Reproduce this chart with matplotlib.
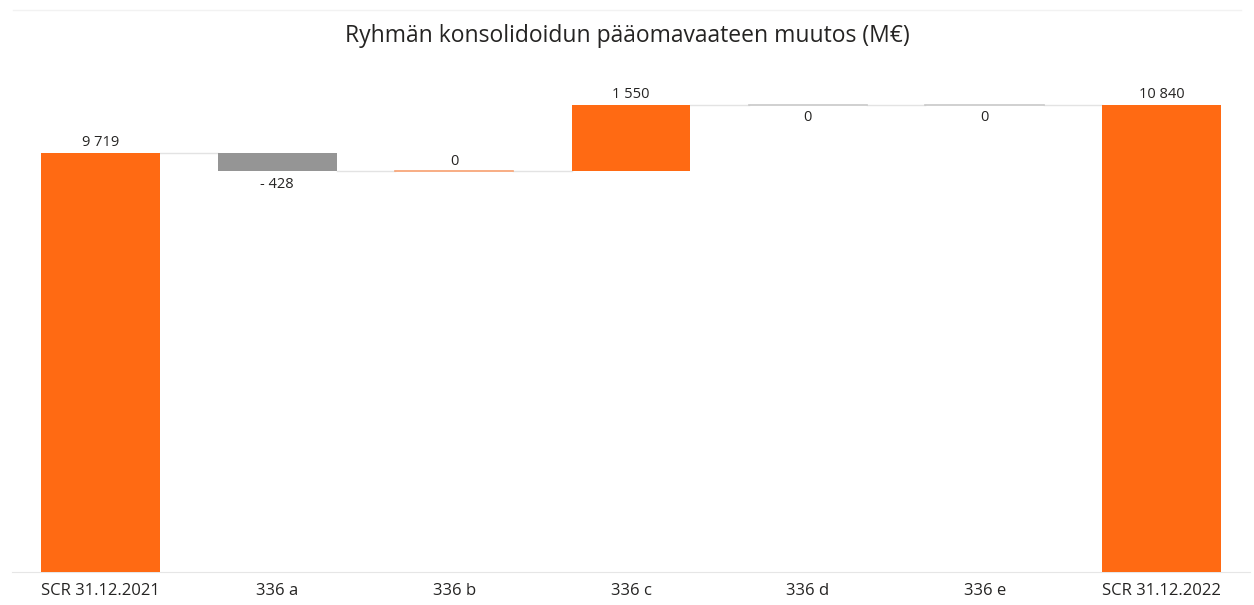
import matplotlib.pyplot as plt
import numpy as np

# data
categories = ["SCR 31.12.2021", "336 a", "336 b", "336 c", "336 d", "336 e", "SCR 31.12.2022"]
values = [9719, -428, 0, 1550, 0, 0, 10840]
is_total = [True, False, False, False, False, False, True]
labels = ["9 719", "- 428", "0", "1 550", "0", "0", "10 840"]

orange = "#FF6A13"
grey = "#959595"

plt.rcParams['font.family'] = ['Open Sans', 'DejaVu Sans']

fig = plt.figure(figsize=(12.54, 6.05), dpi=100)
ax = fig.add_axes([12 / 1254, 33 / 605, 1238 / 1254, 492 / 605])

x = np.arange(len(categories))
bottoms = []
tops = []
running = 0
for i in range(len(values)):
    if is_total[i]:
        b, t = 0, values[i]
        running = values[i]
    else:
        b = running
        running = running + values[i]
        t = running
    bottoms.append(min(b, t))
    tops.append(max(b, t))

w = 0.67
for i in range(len(values)):
    h = tops[i] - bottoms[i]
    if is_total[i] or values[i] > 0:
        col = orange
    else:
        col = grey
    if h > 0:
        ax.bar(x[i], h, bottom=bottoms[i], width=w, color=col, zorder=3)
    else:
        # zero change: thin line
        lc = "#F7A070" if i == 2 else "#C8C8C8"
        ax.plot([x[i] - w / 2, x[i] + w / 2], [bottoms[i]] * 2, color=lc, lw=1.2, zorder=3)

# connector lines
level = 0
for i in range(len(values) - 1):
    if is_total[i]:
        level = values[i]
    else:
        level = level + values[i]
    ax.plot([x[i] + w / 2, x[i + 1] - w / 2], [level, level], color="#E3E3E3", lw=1, zorder=2)

# value labels
for i in range(len(values)):
    if values[i] < 0 or (values[i] == 0 and i >= 4):
        ax.annotate(labels[i], (x[i], bottoms[i]), xytext=(0, -4), textcoords="offset points",
                    ha="center", va="top", fontsize=10.5, color="#252423")
    else:
        ax.annotate(labels[i], (x[i], tops[i]), xytext=(0, 2), textcoords="offset points",
                    ha="center", va="bottom", fontsize=10.5, color="#252423")

ax.set_xlim(-0.5, len(values) - 0.5)
ax.set_ylim(0, 11412)
ax.set_xticks(x)
ax.set_xticklabels(categories, fontsize=12, color="#252423")
ax.tick_params(axis="x", length=0, pad=8)
ax.set_yticks([])
for s in ["top", "right", "left"]:
    ax.spines[s].set_visible(False)
ax.spines["bottom"].set_color("#E6E6E6")

fig.text(0.5, 1 - 36 / 605, "Ryhmän konsolidoidun pääomavaateen muutos (M€)", ha="center", va="center",
         fontsize=16.5, color="#252423")
fig.add_artist(plt.Line2D([0.01, 0.99], [1 - 10 / 605, 1 - 10 / 605], color="#F2F2F2", lw=1))

plt.savefig("out.png")
